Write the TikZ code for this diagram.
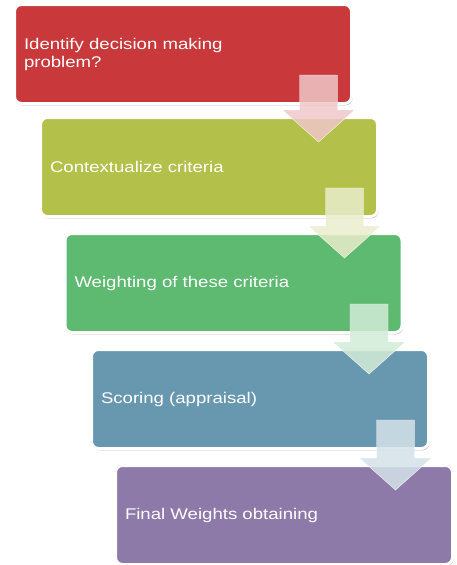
\documentclass[tikz,border=0pt]{standalone}
\usepackage{fontspec}
\setmainfont{Liberation Sans}[FakeStretch=1.2]
\usetikzlibrary{calc,shadows}

\definecolor{stepA}{HTML}{C9383A}
\definecolor{stepB}{HTML}{B3C04A}
\definecolor{stepC}{HTML}{5DBA70}
\definecolor{stepD}{HTML}{6898B0}
\definecolor{stepE}{HTML}{8D7AA9}

\tikzset{
  x=1pt, y=-1pt,
  stagebox/.style={
    draw=white, line width=3pt, rounded corners=7pt,
    fill=#1, text=white, anchor=north west,
    minimum width=337pt, minimum height=99pt,
    text width=318pt, inner xsep=9.5pt, align=left,
    font=\fontsize{15.5}{18}\selectfont,
    drop shadow={shadow xshift=1pt, shadow yshift=-1.8pt, opacity=0.4, fill=black!70}
  },
  flowarrow/.style={fill=#1!28!white, draw=white, line width=0.4pt, opacity=0.85}
}

\begin{document}
\begin{tikzpicture}
  \useasboundingbox (0,0) rectangle (456,565);

  % the five stages, stepping down and to the right
  \node[stagebox=stepA] (s1) at (13,3)     {Identify decision making\\problem?};
  \node[stagebox=stepB] (s2) at (39,116)   {Contextualize criteria};
  \node[stagebox=stepC] (s3) at (63.5,232) {Weighting of these criteria};
  \node[stagebox=stepD] (s4) at (90,348)   {Scoring (appraisal)};
  \node[stagebox=stepE] (s5) at (114,464)  {Final Weights obtaining};

  % block arrows from each stage into the next
  \foreach \a/\b/\c in {s1/s2/stepA, s2/s3/stepB, s3/s4/stepC, s4/s5/stepD}{
    \coordinate (m) at ($(\a.south east)+(-34.5,0)$);
    \coordinate (n) at (\b.north);
    \path[flowarrow=\c]
      ($(m)+(-19,-30)$) -- ($(m)+(19,-30)$)
      -- ($(m |- n)+(19,-6)$) -- ($(m |- n)+(36,-6)$)
      -- ($(m |- n)+(0,26)$)
      -- ($(m |- n)+(-36,-6)$) -- ($(m |- n)+(-19,-6)$)
      -- cycle;
  }
\end{tikzpicture}
\end{document}
